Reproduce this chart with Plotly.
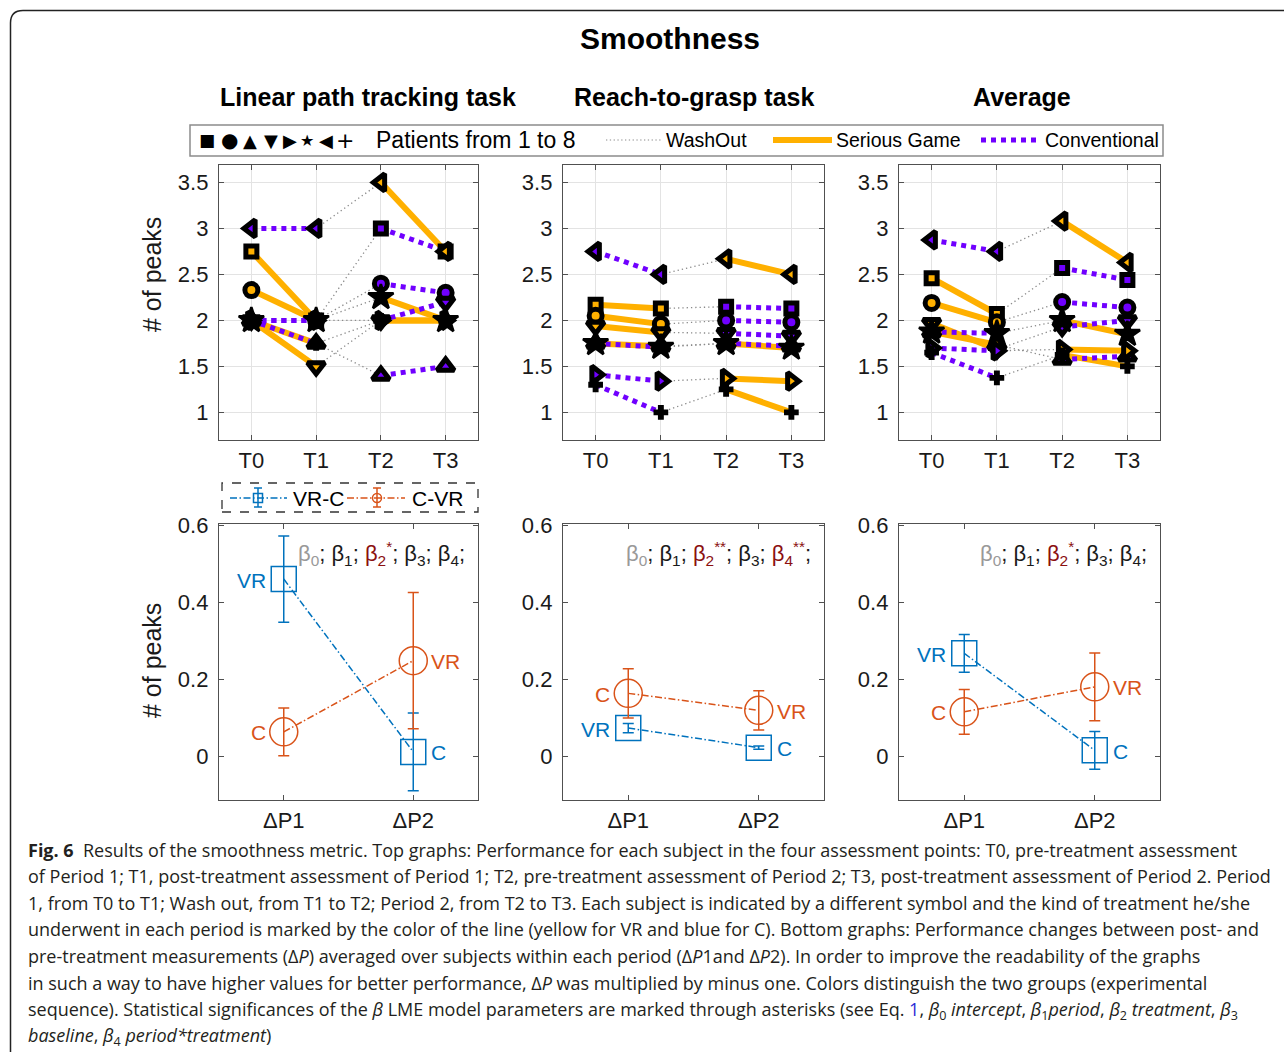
import plotly.graph_objects as go

W, H = 1284, 1052
FONT = "Liberation Sans, Arial, DejaVu Sans"
CAP_FONT = "Open Sans, Lato, sans-serif"

# ---------------- data ----------------
time_points = ["T0", "T1", "T2", "T3"]
patient_symbols = ["square", "circle", "triangle-up", "triangle-down",
                   "triangle-right", "star", "triangle-left", "cross"]
patient_groups = ["VR-C", "VR-C", "VR-C", "VR-C", "C-VR", "C-VR", "C-VR", "C-VR"]

linear_path = [
    [2.75, 2.0, 3.0, 2.75],
    [2.33, 2.0, 2.4, 2.3],
    [2.0, 1.75, 1.4, 1.5],
    [2.0, 1.5, 2.0, 2.2],
    [2.0, 2.0, 2.0, 2.0],
    [2.0, 2.0, 2.25, 2.0],
    [3.0, 3.0, 3.5, 2.75],
    [2.0, 1.75, 2.0, 2.0],
]
reach_to_grasp = [
    [2.17, 2.13, 2.15, 2.13],
    [2.05, 1.96, 2.0, 1.98],
    [1.75, 1.72, 1.75, 1.72],
    [1.94, 1.87, 1.86, 1.83],
    [1.41, 1.34, 1.37, 1.34],
    [1.75, 1.71, 1.75, 1.70],
    [2.75, 2.5, 2.67, 2.5],
    [1.3, 1.0, 1.25, 1.0],
]
average = [
    [2.46, 2.07, 2.57, 2.44],
    [2.19, 1.98, 2.2, 2.14],
    [1.875, 1.735, 1.575, 1.61],
    [1.97, 1.685, 1.93, 2.0],
    [1.7, 1.67, 1.685, 1.67],
    [1.875, 1.86, 2.0, 1.85],
    [2.875, 2.75, 3.08, 2.63],
    [1.65, 1.375, 1.625, 1.5],
]

delta_labels = ["ΔP1", "ΔP2"]
vrc_point_labels = ["VR", "C"]
cvr_point_labels = ["C", "VR"]

lin_vrc_mean = [0.46, 0.011]
lin_vrc_err = [0.112, 0.101]
lin_cvr_mean = [0.063, 0.248]
lin_cvr_err = [0.062, 0.177]

rtg_vrc_mean = [0.073, 0.022]
rtg_vrc_err = [0.012, 0.004]
rtg_cvr_mean = [0.163, 0.119]
rtg_cvr_err = [0.064, 0.051]

avg_vrc_mean = [0.267, 0.015]
avg_vrc_err = [0.049, 0.049]
avg_cvr_mean = [0.115, 0.18]
avg_cvr_err = [0.058, 0.088]

beta_stars_linear = ["", "", "*", "", ""]
beta_stars_reach = ["", "", "**", "", "**"]
beta_stars_average = ["", "", "*", "", ""]

panel_titles = ["Linear path tracking task", "Reach-to-grasp task", "Average"]

# ---------------- styles ----------------
YELLOW = "#FFB000"
PURPLE = "#7000FF"
GRAY = "#8a8a8a"
BLUE = "#0072BD"
ORANGE = "#D95319"
AXC = "#505050"


def fx(p):
    return p / W


def fy(p):
    return 1 - p / H


x_dom = [(219, 478), (563, 824), (899, 1160)]
top_dom = (165, 440)
bot_dom = (524, 800)

fig = go.Figure()

layout_axes = {}
for i in range(6):
    col = i % 3
    top = i < 3
    xname = "xaxis" if i == 0 else f"xaxis{i+1}"
    yname = "yaxis" if i == 0 else f"yaxis{i+1}"
    xa = "x" if i == 0 else f"x{i+1}"
    ya = "y" if i == 0 else f"y{i+1}"
    d = x_dom[col]
    yd = top_dom if top else bot_dom
    common = dict(showline=True, linecolor=AXC, linewidth=1.3, mirror="ticks",
                  ticks="inside", ticklen=5, tickcolor=AXC, automargin=False,
                  tickfont=dict(family=FONT, size=22, color="#1a1a1a"),
                  zeroline=False, fixedrange=True)
    if top:
        layout_axes[xname] = dict(common, domain=[fx(d[0]), fx(d[1])], anchor=ya,
                                  range=[0.5, 4.5], tickvals=[1, 2, 3, 4],
                                  ticktext=time_points, showgrid=True,
                                  gridcolor="#e3e3e3", gridwidth=1)
        layout_axes[yname] = dict(common, domain=[fy(yd[1]), fy(yd[0])], anchor=xa,
                                  range=[0.7, 3.69], tickvals=[1, 1.5, 2, 2.5, 3, 3.5],
                                  ticktext=["1", "1.5", "2", "2.5", "3", "3.5"],
                                  showgrid=True, gridcolor="#e3e3e3", gridwidth=1,
                                  ticklabelstandoff=5)
    else:
        layout_axes[xname] = dict(common, domain=[fx(d[0]), fx(d[1])], anchor=ya,
                                  range=[0.5, 2.5], tickvals=[1, 2],
                                  ticktext=delta_labels, showgrid=False)
        layout_axes[yname] = dict(common, domain=[fy(yd[1]), fy(yd[0])], anchor=xa,
                                  range=[-0.114, 0.603], tickvals=[0, 0.2, 0.4, 0.6],
                                  ticktext=["0", "0.2", "0.4", "0.6"], showgrid=False,
                                  ticklabelstandoff=5)

xs = [1, 2, 3, 4]


def add_top(data, xa, ya):
    wx, wy = [], []
    yx, yy = [], []
    px_, py_ = [], []
    for vals, grp in zip(data, patient_groups):
        wx += [xs[1], xs[2], None]
        wy += [vals[1], vals[2], None]
        p1 = YELLOW if grp == "VR-C" else PURPLE
        p2 = PURPLE if grp == "VR-C" else YELLOW
        for (a, b), c in (((0, 1), p1), ((2, 3), p2)):
            if c == YELLOW:
                yx += [xs[a], xs[b], None]
                yy += [vals[a], vals[b], None]
            else:
                px_ += [xs[a], xs[b], None]
                py_ += [vals[a], vals[b], None]
    fig.add_trace(go.Scatter(x=wx, y=wy, mode="lines", xaxis=xa, yaxis=ya,
                             line=dict(color=GRAY, width=1.3, dash="1.3px,3px"),
                             hoverinfo="skip"))
    fig.add_trace(go.Scatter(x=yx, y=yy, mode="lines", xaxis=xa, yaxis=ya,
                             line=dict(color=YELLOW, width=6), hoverinfo="skip"))
    fig.add_trace(go.Scatter(x=px_, y=py_, mode="lines", xaxis=xa, yaxis=ya,
                             line=dict(color=PURPLE, width=5, dash="dot"),
                             hoverinfo="skip"))
    sizes = {"square": 11, "circle": 13, "triangle-up": 15, "triangle-down": 15,
             "triangle-right": 15, "triangle-left": 15, "star": 19, "cross": 11}
    for vals, grp, sym in zip(data, patient_groups, patient_symbols):
        p1 = YELLOW if grp == "VR-C" else PURPLE
        p2 = PURPLE if grp == "VR-C" else YELLOW
        if sym in ("star", "cross"):
            cols = ["black"] * 4
            lw = 2.5 if sym == "star" else 1.5
        else:
            cols = [p1, p1, p2, p2]
            lw = 5
        fig.add_trace(go.Scatter(x=xs, y=vals, mode="markers", xaxis=xa, yaxis=ya,
                                 marker=dict(symbol=sym, size=sizes[sym], color=cols,
                                             line=dict(color="black", width=lw)),
                                 hoverinfo="skip"))


add_top(linear_path, "x", "y")
add_top(reach_to_grasp, "x2", "y2")
add_top(average, "x3", "y3")

annotations = []


def add_bottom(vrc_m, vrc_e, cvr_m, cvr_e, xa, ya):
    bx = [1, 2]
    for m, e, col, sym, size, labels in (
            (vrc_m, vrc_e, BLUE, "square-open", 25, vrc_point_labels),
            (cvr_m, cvr_e, ORANGE, "circle-open", 28, cvr_point_labels)):
        fig.add_trace(go.Scatter(
            x=bx, y=m, mode="lines+markers", xaxis=xa, yaxis=ya,
            line=dict(color=col, width=1.5, dash="7px,2.5px,1.5px,2.5px"),
            marker=dict(symbol=sym, size=size, color=col, line=dict(color=col, width=1.5)),
            error_y=dict(type="data", array=e, visible=True, color=col, thickness=1.5, width=5.5),
            hoverinfo="skip"))
        for xv, yv, lab in zip(bx, m, labels):
            annotations.append(dict(
                x=xv, y=yv, xref=xa, yref=ya, text=lab, showarrow=False,
                xanchor="right" if xv == 1 else "left",
                xshift=-16 if xv == 1 else 16, yshift=-1,
                font=dict(family=FONT, size=21, color=col)))


add_bottom(lin_vrc_mean, lin_vrc_err, lin_cvr_mean, lin_cvr_err, "x4", "y4")
add_bottom(rtg_vrc_mean, rtg_vrc_err, rtg_cvr_mean, rtg_cvr_err, "x5", "y5")
add_bottom(avg_vrc_mean, avg_vrc_err, avg_cvr_mean, avg_cvr_err, "x6", "y6")


def beta_html(stars):
    parts = []
    for i, s in enumerate(stars):
        if i == 0:
            c = "#999999"
        elif s:
            c = "#8B1010"
        else:
            c = "#1a1a1a"
        sup = f"<sup>{s}</sup>" if s else ""
        parts.append(f"<span style='color:{c}'>β<sub>{i}</sub>{sup}</span>;")
    return " ".join(parts)


for stars, (l, r) in zip((beta_stars_linear, beta_stars_reach, beta_stars_average), x_dom):
    annotations.append(dict(x=fx(r - 11), y=fy(553), xref="paper", yref="paper",
                            xanchor="right", yanchor="middle", showarrow=False,
                            text=beta_html(stars),
                            font=dict(family=FONT, size=22, color="#1a1a1a")))

# titles
annotations.append(dict(x=fx(670), y=fy(38), xref="paper", yref="paper", showarrow=False,
                        text="<b>Smoothness</b>", xanchor="center", yanchor="middle",
                        font=dict(family=FONT, size=30, color="black")))
for t, cx in zip(panel_titles, (368, 694, 1022)):
    annotations.append(dict(x=fx(cx), y=fy(97), xref="paper", yref="paper", showarrow=False,
                            text=f"<b>{t}</b>", xanchor="center", yanchor="middle",
                            font=dict(family=FONT, size=25, color="black")))
for cy in (275, 661):
    annotations.append(dict(x=fx(152), y=fy(cy), xref="paper", yref="paper", showarrow=False,
                            text="# of peaks", textangle=-90, xanchor="center", yanchor="middle",
                            font=dict(family=FONT, size=25, color="#1a1a1a")))

# top legend
shapes = []
shapes.append(dict(type="rect", xref="paper", yref="paper", x0=fx(190), x1=fx(1163),
                   y0=fy(156), y1=fy(125), line=dict(color="#8c8c8c", width=1.5),
                   fillcolor="white", layer="above"))
legend_glyphs = ["■", "●", "▲", "▼", "▶", "★", "◀", "+"]
glyph_x = [207, 229, 250, 271, 290, 307, 326, 345]
glyph_size = [17, 20, 18, 18, 18, 16, 18, 22]
for g, gx, gs in zip(legend_glyphs, glyph_x, glyph_size):
    annotations.append(dict(x=fx(gx), y=fy(140), xref="paper", yref="paper", showarrow=False,
                            text=g, xanchor="center", yanchor="middle",
                            font=dict(family="DejaVu Sans", size=gs, color="black")))
annotations.append(dict(x=fx(374), y=fy(140), xref="paper", yref="paper", showarrow=False,
                        text="Patients from 1 to 8", xanchor="left", yanchor="middle",
                        font=dict(family=FONT, size=23, color="black")))
for label, lx in (("WashOut", 664), ("Serious Game", 834), ("Conventional", 1043)):
    annotations.append(dict(x=fx(lx), y=fy(140), xref="paper", yref="paper", showarrow=False,
                            text=label, xanchor="left", yanchor="middle",
                            font=dict(family=FONT, size=19.5, color="black")))
shapes.append(dict(type="line", xref="paper", yref="paper", x0=fx(606), x1=fx(662),
                   y0=fy(140), y1=fy(140), line=dict(color=GRAY, width=1.2, dash="1.3px,2.5px")))
shapes.append(dict(type="line", xref="paper", yref="paper", x0=fx(773), x1=fx(832),
                   y0=fy(140), y1=fy(140), line=dict(color=YELLOW, width=6)))
shapes.append(dict(type="line", xref="paper", yref="paper", x0=fx(981), x1=fx(1038),
                   y0=fy(140), y1=fy(140), line=dict(color=PURPLE, width=5, dash="dot")))

# bottom legend
shapes.append(dict(type="rect", xref="paper", yref="paper", x0=fx(222), x1=fx(478),
                   y0=fy(512), y1=fy(483), line=dict(color="#333333", width=1.3, dash="dash"),
                   fillcolor="white", layer="above"))
for (l0, l1, cx, col, kind, lab, tx) in ((230, 287, 258, BLUE, "rect", "VR-C", 291),
                                        (347, 405, 377, ORANGE, "circle", "C-VR", 410)):
    shapes.append(dict(type="line", xref="paper", yref="paper", x0=fx(l0), x1=fx(l1),
                       y0=fy(498), y1=fy(498),
                       line=dict(color=col, width=1.5, dash="7px,2.5px,1.5px,2.5px")))
    shapes.append(dict(type=kind, xref="paper", yref="paper", x0=fx(cx - 4.5), x1=fx(cx + 4.5),
                       y0=fy(502.5), y1=fy(493.5), line=dict(color=col, width=1.5)))
    shapes.append(dict(type="line", xref="paper", yref="paper", x0=fx(cx), x1=fx(cx),
                       y0=fy(507), y1=fy(488), line=dict(color=col, width=1.5)))
    for yy in (488, 507):
        shapes.append(dict(type="line", xref="paper", yref="paper", x0=fx(cx - 4), x1=fx(cx + 4),
                           y0=fy(yy), y1=fy(yy), line=dict(color=col, width=1.5)))
    annotations.append(dict(x=fx(tx), y=fy(498), xref="paper", yref="paper", showarrow=False,
                            text=lab, xanchor="left", yanchor="middle",
                            font=dict(family=FONT, size=21, color="black")))

# page border
shapes.append(dict(type="path", xref="paper", yref="paper",
                   path=(f"M {fx(10.5)},{fy(1052)} L {fx(10.5)},{fy(23)} "
                         f"Q {fx(10.5)},{fy(10.5)} {fx(23)},{fy(10.5)} L {fx(1284)},{fy(10.5)}"),
                   line=dict(color="#222222", width=1.5)))

# caption
caption_lines = [
    "<b>Fig. 6</b>  Results of the smoothness metric. Top graphs: Performance for each subject in the four assessment points: T0, pre-treatment assessment",
    "of Period 1; T1, post-treatment assessment of Period 1; T2, pre-treatment assessment of Period 2; T3, post-treatment assessment of Period 2. Period",
    "1, from T0 to T1; Wash out, from T1 to T2; Period 2, from T2 to T3. Each subject is indicated by a different symbol and the kind of treatment he/she",
    "underwent in each period is marked by the color of the line (yellow for VR and blue for C). Bottom graphs: Performance changes between post- and",
    "pre-treatment measurements (Δ<i>P</i>) averaged over subjects within each period (Δ<i>P</i>1and Δ<i>P</i>2). In order to improve the readability of the graphs",
    "in such a way to have higher values for better performance, Δ<i>P</i> was multiplied by minus one. Colors distinguish the two groups (experimental",
    "sequence). Statistical significances of the <i>β</i> LME model parameters are marked through asterisks (see Eq. <span style='color:#2b2bd6'>1</span>, <i>β</i><sub>0</sub> <i>intercept</i>, <i>β</i><sub>1</sub><i>period</i>, <i>β</i><sub>2</sub> <i>treatment</i>, <i>β</i><sub>3</sub>",
    "<i>baseline</i>, <i>β</i><sub>4</sub> <i>period*treatment</i>)",
]
caption_y = [850, 876, 903, 929, 956, 983, 1010, 1036]
for line, yy in zip(caption_lines, caption_y):
    annotations.append(dict(x=fx(26), y=fy(yy), xref="paper", yref="paper", showarrow=False,
                            text=line, xanchor="left", yanchor="middle", align="left",
                            font=dict(family=CAP_FONT, size=18, color="#231f20")))

fig.update_layout(
    width=W, height=H, margin=dict(l=0, r=0, t=0, b=0, autoexpand=False),
    paper_bgcolor="white", plot_bgcolor="white", showlegend=False,
    annotations=annotations, shapes=shapes, **layout_axes,
)

fig.write_html("out.html", config={"displayModeBar": False},
               post_script="document.body.style.margin='0';document.body.style.overflow='hidden';")
